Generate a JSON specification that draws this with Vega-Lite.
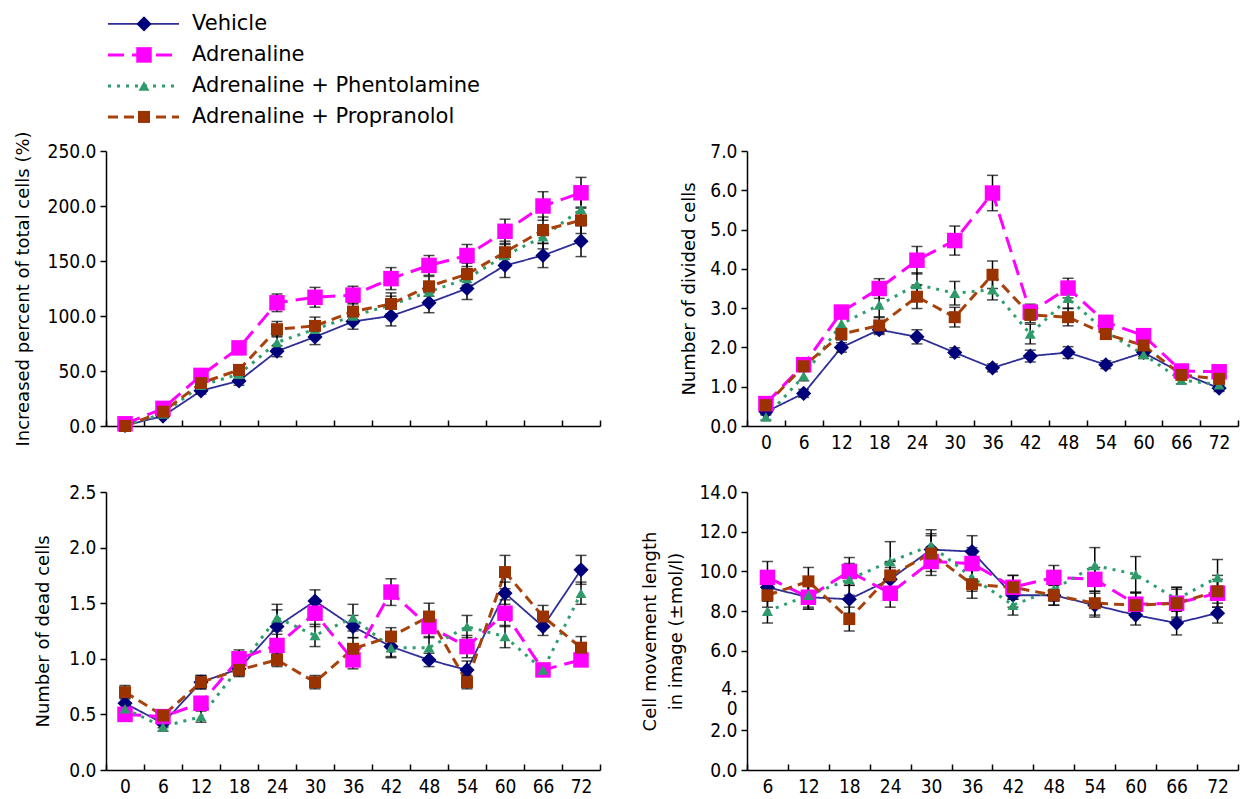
{
  "$schema": "https://vega.github.io/schema/vega-lite/v6.json",
  "background": "white",
  "autosize": {"type": "pad"},
  "padding": {"left": 13, "top": 5, "right": 2, "bottom": 2},
  "config": {
    "view": {"stroke": null},
    "font": "DejaVu Sans",
    "axis": {"grid": false, "domainColor": "black", "domainWidth": 1.5, "tickColor": "black", "tickWidth": 1.5, "labelColor": "black", "labelFont": "DejaVu Sans Condensed, Liberation Sans Narrow, DejaVu Sans", "labelFontSize": 19, "labelOverlap": false, "titleFont": "DejaVu Sans", "titleFontSize": 18, "titleFontWeight": "normal", "titleColor": "black", "titleBaseline": "bottom"},
    "axisX": {"tickSize": -6, "labelPadding": 13, "tickBand": "extent", "labelAngle": 0, "title": null},
    "axisY": {"tickSize": 6, "labelPadding": 4}
  },
  "datasets": {
    "legend": [
      {"s": "Vehicle", "r": 1},
      {"s": "Adrenaline", "r": 2},
      {"s": "Adrenaline + Phentolamine", "r": 3},
      {"s": "Adrenaline + Propranolol", "r": 4}
    ],
    "A": [
      {"t":0,"s":"Vehicle","v":0.5,"e":1},{"t":0,"s":"Adrenaline","v":2,"e":1},{"t":0,"s":"Adrenaline + Phentolamine","v":0.5,"e":1},{"t":0,"s":"Adrenaline + Propranolol","v":0,"e":1},
      {"t":6,"s":"Vehicle","v":9,"e":2},{"t":6,"s":"Adrenaline","v":16,"e":2},{"t":6,"s":"Adrenaline + Phentolamine","v":11,"e":2},{"t":6,"s":"Adrenaline + Propranolol","v":13,"e":2},
      {"t":12,"s":"Vehicle","v":32,"e":3},{"t":12,"s":"Adrenaline","v":46,"e":3},{"t":12,"s":"Adrenaline + Phentolamine","v":37,"e":3},{"t":12,"s":"Adrenaline + Propranolol","v":39,"e":3},
      {"t":18,"s":"Vehicle","v":41,"e":4},{"t":18,"s":"Adrenaline","v":71,"e":4},{"t":18,"s":"Adrenaline + Phentolamine","v":47,"e":4},{"t":18,"s":"Adrenaline + Propranolol","v":51,"e":4},
      {"t":24,"s":"Vehicle","v":68,"e":5},{"t":24,"s":"Adrenaline","v":112,"e":8},{"t":24,"s":"Adrenaline + Phentolamine","v":76,"e":6},{"t":24,"s":"Adrenaline + Propranolol","v":88,"e":7},
      {"t":30,"s":"Vehicle","v":81,"e":7},{"t":30,"s":"Adrenaline","v":117,"e":9},{"t":30,"s":"Adrenaline + Phentolamine","v":88,"e":7},{"t":30,"s":"Adrenaline + Propranolol","v":91,"e":8},
      {"t":36,"s":"Vehicle","v":95,"e":7},{"t":36,"s":"Adrenaline","v":119,"e":8},{"t":36,"s":"Adrenaline + Phentolamine","v":100,"e":7},{"t":36,"s":"Adrenaline + Propranolol","v":104,"e":8},
      {"t":42,"s":"Vehicle","v":100,"e":9},{"t":42,"s":"Adrenaline","v":134,"e":10},{"t":42,"s":"Adrenaline + Phentolamine","v":110,"e":8},{"t":42,"s":"Adrenaline + Propranolol","v":111,"e":10},
      {"t":48,"s":"Vehicle","v":112,"e":9},{"t":48,"s":"Adrenaline","v":146,"e":9},{"t":48,"s":"Adrenaline + Phentolamine","v":122,"e":8},{"t":48,"s":"Adrenaline + Propranolol","v":127,"e":9},
      {"t":54,"s":"Vehicle","v":125,"e":10},{"t":54,"s":"Adrenaline","v":155,"e":10},{"t":54,"s":"Adrenaline + Phentolamine","v":134,"e":9},{"t":54,"s":"Adrenaline + Propranolol","v":138,"e":10},
      {"t":60,"s":"Vehicle","v":146,"e":11},{"t":60,"s":"Adrenaline","v":177,"e":11},{"t":60,"s":"Adrenaline + Phentolamine","v":155,"e":10},{"t":60,"s":"Adrenaline + Propranolol","v":158,"e":10},
      {"t":66,"s":"Vehicle","v":155,"e":11},{"t":66,"s":"Adrenaline","v":200,"e":13},{"t":66,"s":"Adrenaline + Phentolamine","v":172,"e":11},{"t":66,"s":"Adrenaline + Propranolol","v":178,"e":12},
      {"t":72,"s":"Vehicle","v":168,"e":14},{"t":72,"s":"Adrenaline","v":212,"e":14},{"t":72,"s":"Adrenaline + Phentolamine","v":197,"e":12},{"t":72,"s":"Adrenaline + Propranolol","v":187,"e":12}
    ],
    "B": [
      {"t":0,"s":"Vehicle","v":0.36,"e":0.08},{"t":0,"s":"Adrenaline","v":0.57,"e":0.1},{"t":0,"s":"Adrenaline + Phentolamine","v":0.23,"e":0.08},{"t":0,"s":"Adrenaline + Propranolol","v":0.53,"e":0.08},
      {"t":6,"s":"Vehicle","v":0.83,"e":0.1},{"t":6,"s":"Adrenaline","v":1.56,"e":0.12},{"t":6,"s":"Adrenaline + Phentolamine","v":1.27,"e":0.12},{"t":6,"s":"Adrenaline + Propranolol","v":1.52,"e":0.12},
      {"t":12,"s":"Vehicle","v":2.0,"e":0.12},{"t":12,"s":"Adrenaline","v":2.9,"e":0.15},{"t":12,"s":"Adrenaline + Phentolamine","v":2.6,"e":0.15},{"t":12,"s":"Adrenaline + Propranolol","v":2.34,"e":0.15},
      {"t":18,"s":"Vehicle","v":2.45,"e":0.12},{"t":18,"s":"Adrenaline","v":3.5,"e":0.25},{"t":18,"s":"Adrenaline + Phentolamine","v":3.08,"e":0.3},{"t":18,"s":"Adrenaline + Propranolol","v":2.56,"e":0.2},
      {"t":24,"s":"Vehicle","v":2.27,"e":0.18},{"t":24,"s":"Adrenaline","v":4.22,"e":0.35},{"t":24,"s":"Adrenaline + Phentolamine","v":3.6,"e":0.3},{"t":24,"s":"Adrenaline + Propranolol","v":3.29,"e":0.3},
      {"t":30,"s":"Vehicle","v":1.87,"e":0.12},{"t":30,"s":"Adrenaline","v":4.72,"e":0.37},{"t":30,"s":"Adrenaline + Phentolamine","v":3.38,"e":0.3},{"t":30,"s":"Adrenaline + Propranolol","v":2.77,"e":0.25},
      {"t":36,"s":"Vehicle","v":1.48,"e":0.1},{"t":36,"s":"Adrenaline","v":5.93,"e":0.45},{"t":36,"s":"Adrenaline + Phentolamine","v":3.47,"e":0.26},{"t":36,"s":"Adrenaline + Propranolol","v":3.85,"e":0.35},
      {"t":42,"s":"Vehicle","v":1.78,"e":0.15},{"t":42,"s":"Adrenaline","v":2.9,"e":0.2},{"t":42,"s":"Adrenaline + Phentolamine","v":2.34,"e":0.25},{"t":42,"s":"Adrenaline + Propranolol","v":2.83,"e":0.2},
      {"t":48,"s":"Vehicle","v":1.87,"e":0.15},{"t":48,"s":"Adrenaline","v":3.51,"e":0.25},{"t":48,"s":"Adrenaline + Phentolamine","v":3.25,"e":0.25},{"t":48,"s":"Adrenaline + Propranolol","v":2.77,"e":0.22},
      {"t":54,"s":"Vehicle","v":1.56,"e":0.1},{"t":54,"s":"Adrenaline","v":2.64,"e":0.15},{"t":54,"s":"Adrenaline + Phentolamine","v":2.4,"e":0.15},{"t":54,"s":"Adrenaline + Propranolol","v":2.34,"e":0.12},
      {"t":60,"s":"Vehicle","v":1.87,"e":0.1},{"t":60,"s":"Adrenaline","v":2.3,"e":0.15},{"t":60,"s":"Adrenaline + Phentolamine","v":1.82,"e":0.1},{"t":60,"s":"Adrenaline + Propranolol","v":2.05,"e":0.12},
      {"t":66,"s":"Vehicle","v":1.35,"e":0.1},{"t":66,"s":"Adrenaline","v":1.4,"e":0.1},{"t":66,"s":"Adrenaline + Phentolamine","v":1.17,"e":0.1},{"t":66,"s":"Adrenaline + Propranolol","v":1.3,"e":0.1},
      {"t":72,"s":"Vehicle","v":0.96,"e":0.08},{"t":72,"s":"Adrenaline","v":1.38,"e":0.1},{"t":72,"s":"Adrenaline + Phentolamine","v":1.05,"e":0.08},{"t":72,"s":"Adrenaline + Propranolol","v":1.2,"e":0.1}
    ],
    "C": [
      {"t":0,"s":"Vehicle","v":0.6,"e":0.05},{"t":0,"s":"Adrenaline","v":0.5,"e":0.05},{"t":0,"s":"Adrenaline + Phentolamine","v":0.55,"e":0.05},{"t":0,"s":"Adrenaline + Propranolol","v":0.7,"e":0.06},
      {"t":6,"s":"Vehicle","v":0.42,"e":0.04},{"t":6,"s":"Adrenaline","v":0.48,"e":0.05},{"t":6,"s":"Adrenaline + Phentolamine","v":0.39,"e":0.04},{"t":6,"s":"Adrenaline + Propranolol","v":0.49,"e":0.05},
      {"t":12,"s":"Vehicle","v":0.79,"e":0.06},{"t":12,"s":"Adrenaline","v":0.6,"e":0.06},{"t":12,"s":"Adrenaline + Phentolamine","v":0.48,"e":0.05},{"t":12,"s":"Adrenaline + Propranolol","v":0.79,"e":0.06},
      {"t":18,"s":"Vehicle","v":0.91,"e":0.06},{"t":18,"s":"Adrenaline","v":1.0,"e":0.08},{"t":18,"s":"Adrenaline + Phentolamine","v":0.92,"e":0.06},{"t":18,"s":"Adrenaline + Propranolol","v":0.9,"e":0.06},
      {"t":24,"s":"Vehicle","v":1.29,"e":0.15},{"t":24,"s":"Adrenaline","v":1.12,"e":0.1},{"t":24,"s":"Adrenaline + Phentolamine","v":1.37,"e":0.12},{"t":24,"s":"Adrenaline + Propranolol","v":0.99,"e":0.06},
      {"t":30,"s":"Vehicle","v":1.52,"e":0.1},{"t":30,"s":"Adrenaline","v":1.41,"e":0.12},{"t":30,"s":"Adrenaline + Phentolamine","v":1.21,"e":0.1},{"t":30,"s":"Adrenaline + Propranolol","v":0.79,"e":0.06},
      {"t":36,"s":"Vehicle","v":1.29,"e":0.1},{"t":36,"s":"Adrenaline","v":0.99,"e":0.08},{"t":36,"s":"Adrenaline + Phentolamine","v":1.37,"e":0.12},{"t":36,"s":"Adrenaline + Propranolol","v":1.09,"e":0.1},
      {"t":42,"s":"Vehicle","v":1.11,"e":0.1},{"t":42,"s":"Adrenaline","v":1.6,"e":0.12},{"t":42,"s":"Adrenaline + Phentolamine","v":1.1,"e":0.08},{"t":42,"s":"Adrenaline + Propranolol","v":1.2,"e":0.08},
      {"t":48,"s":"Vehicle","v":0.99,"e":0.06},{"t":48,"s":"Adrenaline","v":1.29,"e":0.1},{"t":48,"s":"Adrenaline + Phentolamine","v":1.1,"e":0.1},{"t":48,"s":"Adrenaline + Propranolol","v":1.38,"e":0.12},
      {"t":54,"s":"Vehicle","v":0.9,"e":0.08},{"t":54,"s":"Adrenaline","v":1.11,"e":0.1},{"t":54,"s":"Adrenaline + Phentolamine","v":1.29,"e":0.1},{"t":54,"s":"Adrenaline + Propranolol","v":0.79,"e":0.06},
      {"t":60,"s":"Vehicle","v":1.59,"e":0.1},{"t":60,"s":"Adrenaline","v":1.41,"e":0.12},{"t":60,"s":"Adrenaline + Phentolamine","v":1.2,"e":0.1},{"t":60,"s":"Adrenaline + Propranolol","v":1.78,"e":0.15},
      {"t":66,"s":"Vehicle","v":1.29,"e":0.08},{"t":66,"s":"Adrenaline","v":0.9,"e":0.05},{"t":66,"s":"Adrenaline + Phentolamine","v":0.9,"e":0.05},{"t":66,"s":"Adrenaline + Propranolol","v":1.38,"e":0.1},
      {"t":72,"s":"Vehicle","v":1.8,"e":0.13},{"t":72,"s":"Adrenaline","v":0.99,"e":0.05},{"t":72,"s":"Adrenaline + Phentolamine","v":1.59,"e":0.1},{"t":72,"s":"Adrenaline + Propranolol","v":1.1,"e":0.1}
    ],
    "D": [
      {"t":6,"s":"Vehicle","v":9.2,"e":0.7},{"t":6,"s":"Adrenaline","v":9.7,"e":0.8},{"t":6,"s":"Adrenaline + Phentolamine","v":8.0,"e":0.6},{"t":6,"s":"Adrenaline + Propranolol","v":8.8,"e":0.6},
      {"t":12,"s":"Vehicle","v":8.7,"e":0.6},{"t":12,"s":"Adrenaline","v":8.7,"e":0.6},{"t":12,"s":"Adrenaline + Phentolamine","v":8.8,"e":0.6},{"t":12,"s":"Adrenaline + Propranolol","v":9.5,"e":0.7},
      {"t":18,"s":"Vehicle","v":8.6,"e":0.7},{"t":18,"s":"Adrenaline","v":10.0,"e":0.7},{"t":18,"s":"Adrenaline + Phentolamine","v":9.6,"e":0.8},{"t":18,"s":"Adrenaline + Propranolol","v":7.6,"e":0.6},
      {"t":24,"s":"Vehicle","v":9.6,"e":0.6},{"t":24,"s":"Adrenaline","v":8.9,"e":0.7},{"t":24,"s":"Adrenaline + Phentolamine","v":10.5,"e":1.0},{"t":24,"s":"Adrenaline + Propranolol","v":9.8,"e":0.7},
      {"t":30,"s":"Vehicle","v":11.1,"e":0.8},{"t":30,"s":"Adrenaline","v":10.5,"e":0.7},{"t":30,"s":"Adrenaline + Phentolamine","v":11.3,"e":0.8},{"t":30,"s":"Adrenaline + Propranolol","v":10.9,"e":0.9},
      {"t":36,"s":"Vehicle","v":11.0,"e":0.8},{"t":36,"s":"Adrenaline","v":10.4,"e":0.8},{"t":36,"s":"Adrenaline + Phentolamine","v":9.7,"e":0.7},{"t":36,"s":"Adrenaline + Propranolol","v":9.35,"e":0.7},
      {"t":42,"s":"Vehicle","v":8.8,"e":0.6},{"t":42,"s":"Adrenaline","v":9.2,"e":0.6},{"t":42,"s":"Adrenaline + Phentolamine","v":8.3,"e":0.5},{"t":42,"s":"Adrenaline + Propranolol","v":9.2,"e":0.6},
      {"t":48,"s":"Vehicle","v":8.8,"e":0.5},{"t":48,"s":"Adrenaline","v":9.7,"e":0.6},{"t":48,"s":"Adrenaline + Phentolamine","v":9.1,"e":0.6},{"t":48,"s":"Adrenaline + Propranolol","v":8.8,"e":0.5},
      {"t":54,"s":"Vehicle","v":8.3,"e":0.6},{"t":54,"s":"Adrenaline","v":9.6,"e":0.6},{"t":54,"s":"Adrenaline + Phentolamine","v":10.3,"e":0.9},{"t":54,"s":"Adrenaline + Propranolol","v":8.4,"e":0.6},
      {"t":60,"s":"Vehicle","v":7.8,"e":0.5},{"t":60,"s":"Adrenaline","v":8.35,"e":0.6},{"t":60,"s":"Adrenaline + Phentolamine","v":9.85,"e":0.9},{"t":60,"s":"Adrenaline + Propranolol","v":8.3,"e":0.6},
      {"t":66,"s":"Vehicle","v":7.4,"e":0.6},{"t":66,"s":"Adrenaline","v":8.4,"e":0.7},{"t":66,"s":"Adrenaline + Phentolamine","v":8.6,"e":0.6},{"t":66,"s":"Adrenaline + Propranolol","v":8.4,"e":0.8},
      {"t":72,"s":"Vehicle","v":7.9,"e":0.5},{"t":72,"s":"Adrenaline","v":8.9,"e":0.7},{"t":72,"s":"Adrenaline + Phentolamine","v":9.7,"e":0.9},{"t":72,"s":"Adrenaline + Propranolol","v":9.0,"e":0.8}
    ]
  },
  "columns": 2,
  "spacing": {"row": 66, "column": 147},
  "bounds": "flush",
  "concat": [
    {
      "width": 494, "height": 80,
      "data": {"name": "legend"},
      "encoding": {"y": {"field": "r", "type": "quantitative", "scale": {"domain": [0.39, 2.97], "reverse": true, "zero": false, "nice": false}, "axis": null}},
      "layer": [
        {"mark": {"type": "rule"},
         "encoding": {
           "x": {"datum": 0.2, "type": "quantitative", "scale": {"domain": [0, 49.4], "nice": false, "zero": true}, "axis": null},
           "x2": {"datum": 7.3},
           "stroke": {"field": "s", "type": "nominal", "scale": {"domain": ["Vehicle", "Adrenaline", "Adrenaline + Phentolamine", "Adrenaline + Propranolol"], "range": ["#2e2e96", "#ff00ff", "#2f9e6e", "#a8420c"]}, "legend": null},
           "strokeDash": {"field": "s", "type": "nominal", "scale": {"domain": ["Vehicle", "Adrenaline", "Adrenaline + Phentolamine", "Adrenaline + Propranolol"], "range": [[1, 0], [16, 8], [3, 6], [10, 6]]}, "legend": null},
           "strokeWidth": {"field": "s", "type": "nominal", "scale": {"type": "ordinal", "domain": ["Vehicle", "Adrenaline", "Adrenaline + Phentolamine", "Adrenaline + Propranolol"], "range": [1.8, 3, 3, 3]}, "legend": null}
         }},
        {"mark": {"type": "point", "filled": true, "opacity": 1, "strokeWidth": 0},
         "encoding": {
           "x": {"datum": 3.8, "type": "quantitative"},
           "shape": {"field": "s", "type": "nominal", "scale": {"domain": ["Vehicle", "Adrenaline", "Adrenaline + Phentolamine", "Adrenaline + Propranolol"], "range": ["diamond", "square", "triangle-up", "square"]}, "legend": null},
           "fill": {"field": "s", "type": "nominal", "scale": {"domain": ["Vehicle", "Adrenaline", "Adrenaline + Phentolamine", "Adrenaline + Propranolol"], "range": ["#00007a", "#ff00ff", "#2e9a6a", "#9a3300"]}, "legend": null},
           "size": {"field": "s", "type": "nominal", "scale": {"type": "ordinal", "domain": ["Vehicle", "Adrenaline", "Adrenaline + Phentolamine", "Adrenaline + Propranolol"], "range": [230, 240, 120, 144]}, "legend": null}
         }},
        {"mark": {"type": "text", "align": "left", "baseline": "middle", "font": "DejaVu Sans", "fontSize": 21, "color": "black"},
         "encoding": {"x": {"datum": 8.6, "type": "quantitative"}, "text": {"field": "s"}}}
      ]
    },
    {
      "width": 491, "height": 80,
      "data": {"values": []},
      "mark": {"type": "point", "opacity": 0},
      "encoding": {}
    },
    {
      "width": 494, "height": 275,
      "data": {"name": "A"},
      "encoding": {
        "x": {"field": "t", "type": "ordinal", "scale": {"type": "band", "paddingInner": 0, "paddingOuter": 0}, "axis": {"labels": false, "title": null}},
        "y": {"field": "v", "type": "quantitative", "scale": {"domain": [0, 250], "nice": false}, "axis": {"values": [0, 50, 100, 150, 200, 250], "format": ".1f", "title": "Increased percent of total cells (%)", "titleX": -74}}
      },
      "layer": [
        {"mark": {"type": "line"},
         "encoding": {
           "stroke": {"field": "s", "type": "nominal", "scale": {"domain": ["Vehicle", "Adrenaline", "Adrenaline + Phentolamine", "Adrenaline + Propranolol"], "range": ["#2e2e96", "#ff00ff", "#2f9e6e", "#a8420c"]}, "legend": null},
           "strokeDash": {"field": "s", "type": "nominal", "scale": {"domain": ["Vehicle", "Adrenaline", "Adrenaline + Phentolamine", "Adrenaline + Propranolol"], "range": [[1, 0], [16, 8], [3, 6], [10, 6]]}, "legend": null},
           "strokeWidth": {"field": "s", "type": "nominal", "scale": {"type": "ordinal", "domain": ["Vehicle", "Adrenaline", "Adrenaline + Phentolamine", "Adrenaline + Propranolol"], "range": [1.8, 3, 3, 3]}, "legend": null}
         }},
        {"mark": {"type": "errorbar", "color": "black", "thickness": 1.5, "ticks": {"size": 11, "thickness": 1.5, "color": "black"}},
         "encoding": {"yError": {"field": "e"}, "detail": {"field": "s", "type": "nominal"}}},
        {"mark": {"type": "point", "filled": true, "opacity": 1, "strokeWidth": 0},
         "encoding": {
           "shape": {"field": "s", "type": "nominal", "scale": {"domain": ["Vehicle", "Adrenaline", "Adrenaline + Phentolamine", "Adrenaline + Propranolol"], "range": ["diamond", "square", "triangle-up", "square"]}, "legend": null},
           "fill": {"field": "s", "type": "nominal", "scale": {"domain": ["Vehicle", "Adrenaline", "Adrenaline + Phentolamine", "Adrenaline + Propranolol"], "range": ["#00007a", "#ff00ff", "#2e9a6a", "#9a3300"]}, "legend": null},
           "size": {"field": "s", "type": "nominal", "scale": {"type": "ordinal", "domain": ["Vehicle", "Adrenaline", "Adrenaline + Phentolamine", "Adrenaline + Propranolol"], "range": [230, 240, 120, 144]}, "legend": null}
         }},
        {"data": {"values": [{"p": "A"}]},
         "mark": {"type": "text", "align": "left", "baseline": "middle", "dx": -5, "dy": 2, "font": "Liberation Sans", "fontWeight": "bold", "fontSize": 17, "color": "black"},
         "encoding": {"x": {"datum": 0, "type": "ordinal"}, "y": {"datum": 250, "type": "quantitative"}, "text": {"field": "p"}}}
      ]
    },
    {
      "width": 491, "height": 275,
      "data": {"name": "B"},
      "encoding": {
        "x": {"field": "t", "type": "ordinal", "scale": {"type": "band", "paddingInner": 0, "paddingOuter": 0}, "axis": {"title": null}},
        "y": {"field": "v", "type": "quantitative", "scale": {"domain": [0, 7], "nice": false}, "axis": {"values": [0, 1, 2, 3, 4, 5, 6, 7], "format": ".1f", "title": "Number of divided cells", "titleX": -49}}
      },
      "layer": [
        {"mark": {"type": "line"},
         "encoding": {
           "stroke": {"field": "s", "type": "nominal", "scale": {"domain": ["Vehicle", "Adrenaline", "Adrenaline + Phentolamine", "Adrenaline + Propranolol"], "range": ["#2e2e96", "#ff00ff", "#2f9e6e", "#a8420c"]}, "legend": null},
           "strokeDash": {"field": "s", "type": "nominal", "scale": {"domain": ["Vehicle", "Adrenaline", "Adrenaline + Phentolamine", "Adrenaline + Propranolol"], "range": [[1, 0], [16, 8], [3, 6], [10, 6]]}, "legend": null},
           "strokeWidth": {"field": "s", "type": "nominal", "scale": {"type": "ordinal", "domain": ["Vehicle", "Adrenaline", "Adrenaline + Phentolamine", "Adrenaline + Propranolol"], "range": [1.8, 3, 3, 3]}, "legend": null}
         }},
        {"mark": {"type": "errorbar", "color": "black", "thickness": 1.5, "ticks": {"size": 11, "thickness": 1.5, "color": "black"}},
         "encoding": {"yError": {"field": "e"}, "detail": {"field": "s", "type": "nominal"}}},
        {"mark": {"type": "point", "filled": true, "opacity": 1, "strokeWidth": 0},
         "encoding": {
           "shape": {"field": "s", "type": "nominal", "scale": {"domain": ["Vehicle", "Adrenaline", "Adrenaline + Phentolamine", "Adrenaline + Propranolol"], "range": ["diamond", "square", "triangle-up", "square"]}, "legend": null},
           "fill": {"field": "s", "type": "nominal", "scale": {"domain": ["Vehicle", "Adrenaline", "Adrenaline + Phentolamine", "Adrenaline + Propranolol"], "range": ["#00007a", "#ff00ff", "#2e9a6a", "#9a3300"]}, "legend": null},
           "size": {"field": "s", "type": "nominal", "scale": {"type": "ordinal", "domain": ["Vehicle", "Adrenaline", "Adrenaline + Phentolamine", "Adrenaline + Propranolol"], "range": [230, 240, 120, 144]}, "legend": null}
         }},
        {"data": {"values": [{"p": "B"}]},
         "mark": {"type": "text", "align": "left", "baseline": "middle", "dx": -6, "dy": 2, "font": "Liberation Sans", "fontWeight": "bold", "fontSize": 17, "color": "black"},
         "encoding": {"x": {"datum": 0, "type": "ordinal"}, "y": {"datum": 7, "type": "quantitative"}, "text": {"field": "p"}}}
      ]
    },
    {
      "width": 494, "height": 278,
      "data": {"name": "C"},
      "encoding": {
        "x": {"field": "t", "type": "ordinal", "scale": {"type": "band", "paddingInner": 0, "paddingOuter": 0}, "axis": {"title": null}},
        "y": {"field": "v", "type": "quantitative", "scale": {"domain": [0, 2.5], "nice": false}, "axis": {"values": [0, 0.5, 1, 1.5, 2, 2.5], "format": ".1f", "title": "Number of dead cells", "titleX": -54}}
      },
      "layer": [
        {"mark": {"type": "line"},
         "encoding": {
           "stroke": {"field": "s", "type": "nominal", "scale": {"domain": ["Vehicle", "Adrenaline", "Adrenaline + Phentolamine", "Adrenaline + Propranolol"], "range": ["#2e2e96", "#ff00ff", "#2f9e6e", "#a8420c"]}, "legend": null},
           "strokeDash": {"field": "s", "type": "nominal", "scale": {"domain": ["Vehicle", "Adrenaline", "Adrenaline + Phentolamine", "Adrenaline + Propranolol"], "range": [[1, 0], [16, 8], [3, 6], [10, 6]]}, "legend": null},
           "strokeWidth": {"field": "s", "type": "nominal", "scale": {"type": "ordinal", "domain": ["Vehicle", "Adrenaline", "Adrenaline + Phentolamine", "Adrenaline + Propranolol"], "range": [1.8, 3, 3, 3]}, "legend": null}
         }},
        {"mark": {"type": "errorbar", "color": "black", "thickness": 1.5, "ticks": {"size": 11, "thickness": 1.5, "color": "black"}},
         "encoding": {"yError": {"field": "e"}, "detail": {"field": "s", "type": "nominal"}}},
        {"mark": {"type": "point", "filled": true, "opacity": 1, "strokeWidth": 0},
         "encoding": {
           "shape": {"field": "s", "type": "nominal", "scale": {"domain": ["Vehicle", "Adrenaline", "Adrenaline + Phentolamine", "Adrenaline + Propranolol"], "range": ["diamond", "square", "triangle-up", "square"]}, "legend": null},
           "fill": {"field": "s", "type": "nominal", "scale": {"domain": ["Vehicle", "Adrenaline", "Adrenaline + Phentolamine", "Adrenaline + Propranolol"], "range": ["#00007a", "#ff00ff", "#2e9a6a", "#9a3300"]}, "legend": null},
           "size": {"field": "s", "type": "nominal", "scale": {"type": "ordinal", "domain": ["Vehicle", "Adrenaline", "Adrenaline + Phentolamine", "Adrenaline + Propranolol"], "range": [230, 240, 120, 144]}, "legend": null}
         }},
        {"data": {"values": [{"p": "C"}]},
         "mark": {"type": "text", "align": "left", "baseline": "middle", "dx": -7, "dy": 2, "font": "Liberation Sans", "fontWeight": "bold", "fontSize": 17, "color": "black"},
         "encoding": {"x": {"datum": 0, "type": "ordinal"}, "y": {"datum": 2.5, "type": "quantitative"}, "text": {"field": "p"}}}
      ]
    },
    {
      "width": 491, "height": 278,
      "data": {"name": "D"},
      "encoding": {
        "x": {"field": "t", "type": "ordinal", "scale": {"type": "band", "paddingInner": 0, "paddingOuter": 0}, "axis": {"title": null}},
        "y": {"field": "v", "type": "quantitative", "scale": {"domain": [0, 14], "nice": false}, "axis": {"values": [0, 2, 4, 6, 8, 10, 12, 14], "labelExpr": "datum.value == 4 ? ['4.', '0'] : format(datum.value, '.1f')", "labelLineHeight": 20, "labelBaseline": {"condition": {"test": "datum.value == 4", "value": "top"}, "value": "middle"}, "labelOffset": {"condition": {"test": "datum.value == 4", "value": -11}, "value": 0}, "title": ["Cell movement length", "in image (±mol/l)"], "titleLineHeight": 26, "titleX": -88}}
      },
      "layer": [
        {"mark": {"type": "line"},
         "encoding": {
           "stroke": {"field": "s", "type": "nominal", "scale": {"domain": ["Vehicle", "Adrenaline", "Adrenaline + Phentolamine", "Adrenaline + Propranolol"], "range": ["#2e2e96", "#ff00ff", "#2f9e6e", "#a8420c"]}, "legend": null},
           "strokeDash": {"field": "s", "type": "nominal", "scale": {"domain": ["Vehicle", "Adrenaline", "Adrenaline + Phentolamine", "Adrenaline + Propranolol"], "range": [[1, 0], [16, 8], [3, 6], [10, 6]]}, "legend": null},
           "strokeWidth": {"field": "s", "type": "nominal", "scale": {"type": "ordinal", "domain": ["Vehicle", "Adrenaline", "Adrenaline + Phentolamine", "Adrenaline + Propranolol"], "range": [1.8, 3, 3, 3]}, "legend": null}
         }},
        {"mark": {"type": "errorbar", "color": "black", "thickness": 1.5, "ticks": {"size": 11, "thickness": 1.5, "color": "black"}},
         "encoding": {"yError": {"field": "e"}, "detail": {"field": "s", "type": "nominal"}}},
        {"mark": {"type": "point", "filled": true, "opacity": 1, "strokeWidth": 0},
         "encoding": {
           "shape": {"field": "s", "type": "nominal", "scale": {"domain": ["Vehicle", "Adrenaline", "Adrenaline + Phentolamine", "Adrenaline + Propranolol"], "range": ["diamond", "square", "triangle-up", "square"]}, "legend": null},
           "fill": {"field": "s", "type": "nominal", "scale": {"domain": ["Vehicle", "Adrenaline", "Adrenaline + Phentolamine", "Adrenaline + Propranolol"], "range": ["#00007a", "#ff00ff", "#2e9a6a", "#9a3300"]}, "legend": null},
           "size": {"field": "s", "type": "nominal", "scale": {"type": "ordinal", "domain": ["Vehicle", "Adrenaline", "Adrenaline + Phentolamine", "Adrenaline + Propranolol"], "range": [230, 240, 120, 144]}, "legend": null}
         }},
        {"data": {"values": [{"p": "D"}]},
         "mark": {"type": "text", "align": "left", "baseline": "middle", "dx": -9, "dy": 2, "font": "Liberation Sans", "fontWeight": "bold", "fontSize": 17, "color": "black"},
         "encoding": {"x": {"datum": 6, "type": "ordinal"}, "y": {"datum": 14, "type": "quantitative"}, "text": {"field": "p"}}}
      ]
    }
  ]
}
